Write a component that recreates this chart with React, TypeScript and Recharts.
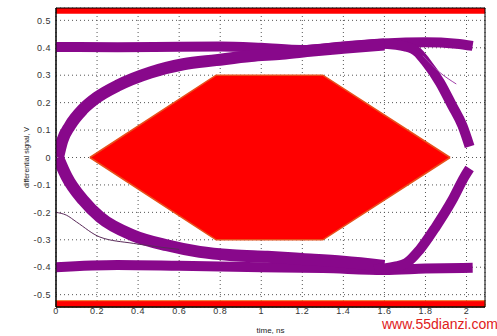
import {
  Area,
  CartesianGrid,
  ComposedChart,
  Line,
  ReferenceArea,
  XAxis,
  YAxis,
} from "recharts";

// eye diagram traces (time ns, differential signal V)
const topBand = [
  { x: 0, y: 0.403 }, { x: 0.3, y: 0.402 }, { x: 0.6, y: 0.404 }, { x: 0.8, y: 0.405 },
  { x: 1.0, y: 0.4 }, { x: 1.2, y: 0.392 }, { x: 1.4, y: 0.405 }, { x: 1.6, y: 0.416 },
  { x: 1.8, y: 0.42 }, { x: 1.95, y: 0.415 }, { x: 2.03, y: 0.407 },
];
const bottomBand = [
  { x: 0, y: -0.4 }, { x: 0.3, y: -0.392 }, { x: 0.6, y: -0.395 }, { x: 1.0, y: -0.4 },
  { x: 1.3, y: -0.403 }, { x: 1.6, y: -0.41 }, { x: 1.8, y: -0.405 }, { x: 2.03, y: -0.402 },
];
const upperArc = [
  { x: 0.01, y: 0 }, { x: 0.03, y: 0.06 }, { x: 0.068, y: 0.116 }, { x: 0.133, y: 0.177 },
  { x: 0.2, y: 0.219 }, { x: 0.3, y: 0.262 }, { x: 0.46, y: 0.31 }, { x: 0.62, y: 0.34 },
  { x: 0.78, y: 0.355 }, { x: 0.95, y: 0.37 }, { x: 1.1, y: 0.378 }, { x: 1.25, y: 0.39 },
  { x: 1.4, y: 0.4 }, { x: 1.6, y: 0.412 },
];
const lowerArc = [
  { x: 0.01, y: 0 }, { x: 0.052, y: -0.07 }, { x: 0.133, y: -0.156 }, { x: 0.214, y: -0.217 },
  { x: 0.376, y: -0.284 }, { x: 0.54, y: -0.32 }, { x: 0.7, y: -0.344 }, { x: 0.86, y: -0.356 },
  { x: 1.03, y: -0.362 }, { x: 1.2, y: -0.37 }, { x: 1.4, y: -0.38 }, { x: 1.6, y: -0.395 },
];
const fallingEdge = [
  { x: 1.6, y: 0.415 }, { x: 1.7, y: 0.405 }, { x: 1.76, y: 0.385 }, { x: 1.8, y: 0.35 },
  { x: 1.87, y: 0.274 }, { x: 1.93, y: 0.189 }, { x: 1.98, y: 0.116 }, { x: 2.015, y: 0.04 },
];
const risingEdge = [
  { x: 1.55, y: -0.408 }, { x: 1.65, y: -0.398 }, { x: 1.707, y: -0.385 }, { x: 1.77, y: -0.338 },
  { x: 1.85, y: -0.253 }, { x: 1.93, y: -0.156 }, { x: 1.99, y: -0.07 }, { x: 2.015, y: -0.04 },
];
const strayLow = [
  { x: 0, y: -0.2 }, { x: 0.05, y: -0.21 }, { x: 0.1, y: -0.235 }, { x: 0.214, y: -0.29 },
  { x: 0.376, y: -0.313 }, { x: 0.5, y: -0.326 }, { x: 0.6, y: -0.335 },
];
const strayHigh = [
  { x: 1.787, y: 0.371 }, { x: 1.87, y: 0.31 }, { x: 1.95, y: 0.268 },
];

// eye mask (hexagon) as a range area
const mask = [
  { x: 0.165, r: [0, 0] },
  { x: 0.78, r: [-0.3, 0.3] },
  { x: 1.3, r: [-0.3, 0.3] },
  { x: 1.92, r: [0, 0] },
];

const xTicks = [0, 0.2, 0.4, 0.6, 0.8, 1, 1.2, 1.4, 1.6, 1.8, 2];
const yTicks = [-0.5, -0.4, -0.3, -0.2, -0.1, 0, 0.1, 0.2, 0.3, 0.4, 0.5];

const PURPLE = "#88088b";
const font = "'Liberation Sans', Arial, sans-serif";
const tickStyle = { fontSize: 9, fill: "#333", fontFamily: font, letterSpacing: 0.5 };

export default function App() {
  return (
    <div style={{ position: "absolute", left: 0, top: 0, width: 497, height: 336, background: "#fff" }}>
      <ComposedChart width={497} height={336} margin={{ top: 8, right: 12, bottom: 0, left: 0 }}>
        <CartesianGrid stroke="#555" strokeDasharray="1 3" />
        <XAxis
          type="number"
          dataKey="x"
          domain={[0, 2.09]}
          ticks={xTicks}
          allowDataOverflow
          height={29}
          tickLine={false}
          tickSize={1}
          tickMargin={0}
          axisLine={{ stroke: "#000" }}
          tick={tickStyle}
          label={{ value: "time, ns", position: "insideBottom", offset: 3, style: { fontSize: 8, fill: "#222", fontFamily: font } }}
        />
        <YAxis
          type="number"
          domain={[-0.545, 0.545]}
          ticks={yTicks}
          allowDataOverflow
          width={56}
          tickLine={false}
          tickSize={2}
          tickMargin={3}
          axisLine={{ stroke: "#000" }}
          tick={tickStyle}
          label={{ value: "differential signal, V", angle: -90, position: "insideLeft", offset: 27, style: { fontSize: 7, fill: "#222", fontFamily: font, textAnchor: "middle" } }}
        />
        <ReferenceArea x1={0} x2={2.09} y1={0.524} y2={0.545} fill="#f00" fillOpacity={1} stroke="none" />
        <ReferenceArea x1={0} x2={2.09} y1={-0.545} y2={-0.522} fill="#f00" fillOpacity={1} stroke="#f07020" />
        <Area data={mask} dataKey="r" type="linear" fill="#ff0000" fillOpacity={1} stroke="#e8501c" strokeWidth={1.5} isAnimationActive={false} />
        <Line data={topBand} dataKey="y" type="monotone" stroke={PURPLE} strokeWidth={10} dot={false} isAnimationActive={false} />
        <Line data={bottomBand} dataKey="y" type="monotone" stroke={PURPLE} strokeWidth={10} dot={false} isAnimationActive={false} />
        <Line data={upperArc} dataKey="y" type="monotone" stroke={PURPLE} strokeWidth={12} dot={false} isAnimationActive={false} />
        <Line data={lowerArc} dataKey="y" type="monotone" stroke={PURPLE} strokeWidth={12} dot={false} isAnimationActive={false} />
        <Line data={fallingEdge} dataKey="y" type="monotone" stroke={PURPLE} strokeWidth={10} dot={false} isAnimationActive={false} />
        <Line data={risingEdge} dataKey="y" type="monotone" stroke={PURPLE} strokeWidth={10} dot={false} isAnimationActive={false} />
        <Line data={strayLow} dataKey="y" type="monotone" stroke="#5a2a5a" strokeWidth={1} dot={false} isAnimationActive={false} />
        <Line data={strayHigh} dataKey="y" type="monotone" stroke="#a040a8" strokeWidth={1} dot={false} isAnimationActive={false} />
        <ReferenceArea x1={0} x2={2.09} y1={-0.545} y2={0.545} fill="none" stroke="#000" strokeWidth={1} />
      </ComposedChart>
      <div style={{ position: "absolute", left: 382, top: 316, fontFamily: font, fontSize: 14, lineHeight: "16px", color: "#e0201a", whiteSpace: "nowrap" }}>
        www.55dianzi.com
      </div>
    </div>
  );
}
